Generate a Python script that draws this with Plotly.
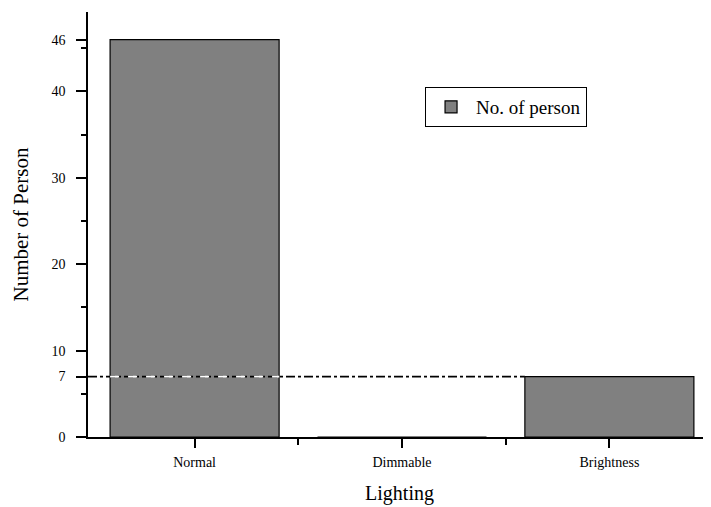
import plotly.graph_objects as go

categories = ["Normal", "Dimmable", "Brightness"]
persons = [46, 0, 7]
series_name = "No. of person"
ref_value = 7
y_tickvals = [0, 7, 10, 20, 30, 40, 46]
y_minor = [5, 15, 25, 35, 45]

BAR_W = 0.815
X_RANGE = [-0.514, 2.49]
Y_RANGE = [0, 49.2]

fig = go.Figure()
fig.add_trace(go.Bar(
    x=list(range(len(categories))), y=persons, name=series_name, width=BAR_W,
    marker=dict(color="#808080", line=dict(color="black", width=1.2)),
    showlegend=True,
))

# reference dash-dot line at value 7, ending at the bar that reaches it
end_idx = persons.index(ref_value)
x_end = end_idx - BAR_W / 2
fig.add_shape(type="line", xref="x", yref="y", x0=X_RANGE[0], x1=x_end,
              y0=ref_value, y1=ref_value,
              line=dict(color="black", width=1.8, dash="dashdot"), layer="above")
fig.add_shape(type="line", xref="x", yref="y", x0=0 - BAR_W / 2, x1=0 + BAR_W / 2,
              y0=ref_value, y1=ref_value,
              line=dict(color="white", width=1.8, dash="dash"), layer="above")

font_family = "Liberation Serif"
fig.update_layout(
    width=703, height=499,
    margin=dict(l=80, r=0, t=4, b=70),
    plot_bgcolor="white", paper_bgcolor="white",
    font=dict(family=font_family, color="black", size=12),
    bargap=0.2,
    showlegend=True,
    legend=dict(x=0.541, y=0.8235, xanchor="left", yanchor="top",
                bordercolor="black", borderwidth=1, bgcolor="white",
                font=dict(family=font_family, size=19), itemwidth=40,
                tracegroupgap=0),
    xaxis=dict(
        automargin=False,
        range=X_RANGE, tickmode="array", tickvals=list(range(len(categories))),
        ticktext=categories, showline=True, linecolor="black", linewidth=1.5,
        ticks="outside", ticklen=9, tickwidth=1.5, tickcolor="black",
        showgrid=False, zeroline=False,
        tickfont=dict(size=14), ticklabelstandoff=2,
        minor=dict(tickvals=[0.5, 1.5], ticks="outside", ticklen=6, tickwidth=1.5, tickcolor="black"),
        title=dict(text="Lighting", font=dict(size=20), standoff=17),
    ),
    yaxis=dict(
        automargin=False,
        range=Y_RANGE, tickmode="array", tickvals=y_tickvals,
        showline=True, linecolor="black", linewidth=1.5,
        ticks="outside", ticklen=10, tickwidth=1.5, tickcolor="black",
        showgrid=False, zeroline=False,
        tickfont=dict(size=14), ticklabelstandoff=8,
        minor=dict(tickvals=y_minor, ticks="outside", ticklen=5, tickwidth=1.5, tickcolor="black"),
        title=dict(text="Number of Person", font=dict(size=21), standoff=17),
    ),
)

fig.write_html("out.html")
